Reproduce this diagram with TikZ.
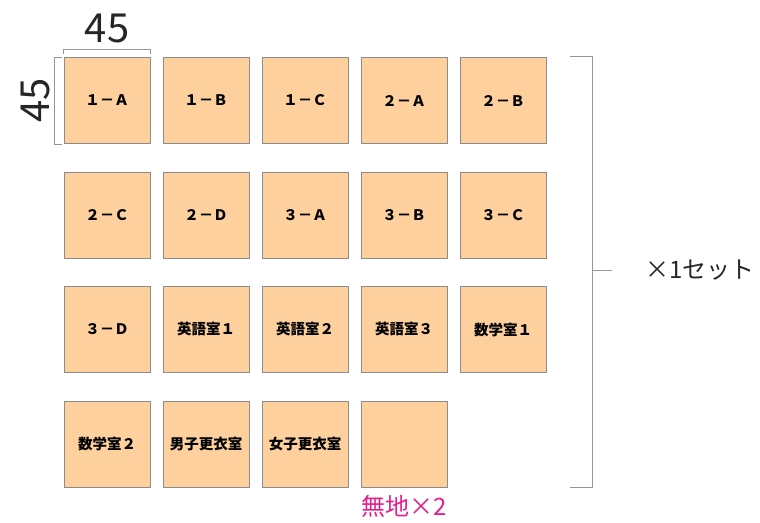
\documentclass[tikz,border=0pt]{standalone}
\usepackage{fontspec}
\newfontfamily\cjk{Noto Sans CJK JP}
\usetikzlibrary{positioning,calc}
\definecolor{pesca}{RGB}{253,208,158}
\definecolor{bordo}{RGB}{140,140,140}
\definecolor{quota}{RGB}{150,150,150}
\definecolor{rosa}{RGB}{228,30,140}
\tikzset{
  tessera/.style={draw=bordo, line width=1pt, fill=pesca, minimum size=86pt, inner sep=0pt,
    font=\cjk\bfseries\fontsize{14.5}{14.5}\selectfont},
  linea/.style={draw=quota, line width=1pt}
}
\begin{document}
\begin{tikzpicture}[x=1pt,y=-1pt]
		\useasboundingbox (0,0) rectangle (760,522);
		% Prima fila
		\node [tessera] (b1A) at (107,100.5) {１－Ａ};
		\node [tessera] (b1B) at (206,100.5) {１－Ｂ};
		\node [tessera] (b1C) at (305,100.5) {１－Ｃ};
		\node [tessera] (b2A) at (404,100.5) {２－Ａ};
		\node [tessera] (b2B) at (503,100.5) {２－Ｂ};
		% Seconda fila
		\node [tessera] (b2C) at (107,215) {２－Ｃ};
		\node [tessera] (b2D) at (206,215) {２－Ｄ};
		\node [tessera] (b3A) at (305,215) {３－Ａ};
		\node [tessera] (b3B) at (404,215) {３－Ｂ};
		\node [tessera] (b3C) at (503,215) {３－Ｃ};
		% Terza fila
		\node [tessera] (b3D) at (107,329.5) {３－Ｄ};
		\node [tessera] (ing1) at (206,329.5) {英語室１};
		\node [tessera] (ing2) at (305,329.5) {英語室２};
		\node [tessera] (ing3) at (404,329.5) {英語室３};
		\node [tessera] (mat1) at (503,329.5) {数学室１};
		% Quarta fila
		\node [tessera] (mat2) at (107,444) {数学室２};
		\node [tessera] (spM) at (206,444) {男子更衣室};
		\node [tessera] (spF) at (305,444) {女子更衣室};
		\node [tessera] (vuoto) at (404,444) {};
		\node [font=\cjk\fontsize{24}{24}\selectfont, text=rosa, inner sep=0pt] (nota) at (404,506) {無地×2};
		
		% Quote
		\draw [linea] ([yshift=3]b1A.north west) -- ([yshift=8]b1A.north west) -- ([yshift=8]b1A.north east) -- ([yshift=3]b1A.north east);
		\node [font=\cjk\fontsize{40}{40}\selectfont, text=black!85, inner sep=0pt] (qx) at (107,28) {45};
		\draw [linea] ([xshift=-2]b1A.north west) -- ([xshift=-9]b1A.north west) -- ([xshift=-9]b1A.south west) -- ([xshift=-2]b1A.south west);
		\node [font=\cjk\fontsize{40}{40}\selectfont, text=black!85, inner sep=0pt, rotate=90] (qy) at (35,100.5) {45};
		
		% Parentesi
		\coordinate (pA) at (570,56);
		\coordinate (pB) at (592,56);
		\coordinate (pC) at (592,487);
		\coordinate (pD) at (570,487);
		\coordinate (pM) at (592,270);
		\draw [linea] (pA) -- (pB) -- (pC) -- (pD);
		\node [font=\cjk\fontsize{24}{24}\selectfont, text=black!85, anchor=west, inner sep=0pt] (set) at (645,270) {×1セット};
		\draw [linea] (pM) -- ([xshift=-33]set.west);
	\end{tikzpicture}
\end{document}
